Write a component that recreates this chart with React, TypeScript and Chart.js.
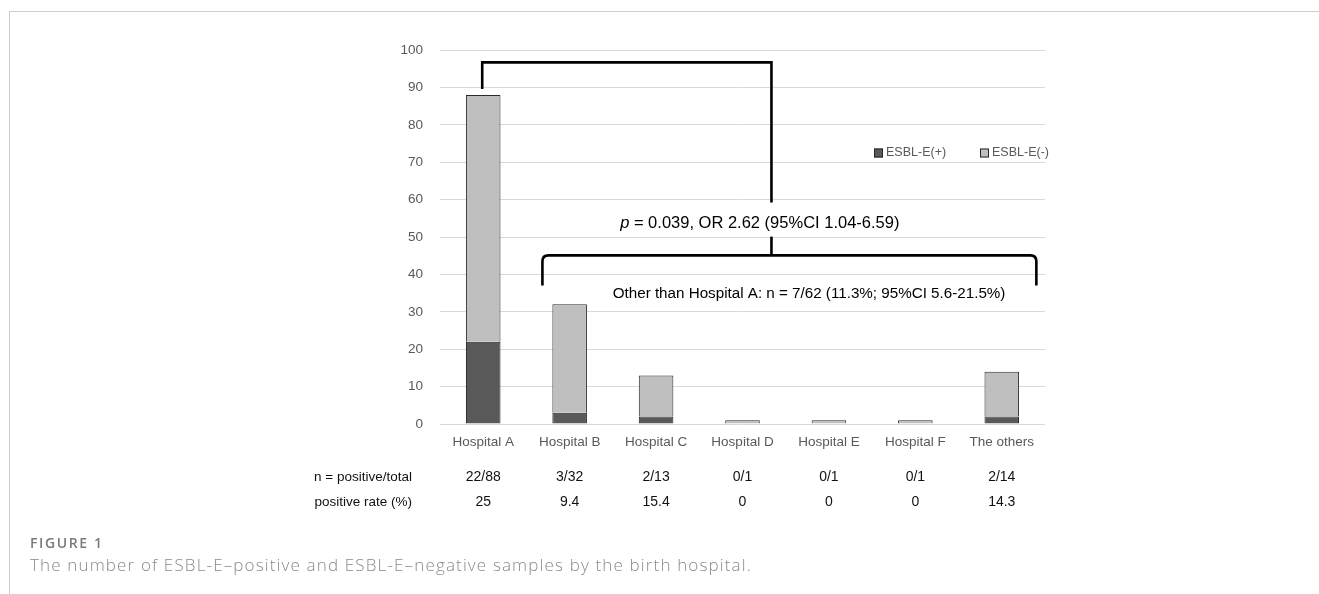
import React, { useEffect, useRef } from 'react';
import { Chart, registerables } from 'chart.js';

Chart.register(...registerables);

const categories = ['Hospital A', 'Hospital B', 'Hospital C', 'Hospital D', 'Hospital E', 'Hospital F', 'The others'];
const positiveCounts = [22, 3, 2, 0, 0, 0, 2];
const negativeCounts = [66, 29, 11, 1, 1, 1, 12];
const nPositiveTotal = ['22/88', '3/32', '2/13', '0/1', '0/1', '0/1', '2/14'];
const positiveRate = ['25', '9.4', '15.4', '0', '0', '0', '14.3'];
const seriesNames = ['ESBL-E(+)', 'ESBL-E(-)'];
const tableRowLabels = ['n = positive/total', 'positive rate (%)'];
const pText = ' = 0.039, OR 2.62 (95%CI 1.04-6.59)';
const otherText = 'Other than Hospital A: n = 7/62 (11.3%; 95%CI 5.6-21.5%)';

const FONT = '"Liberation Sans", Arial, sans-serif';
const DARK = '#595959';
const LIGHT = '#bfbfbf';

const overlay = {
  id: 'overlay',
  afterDraw(chart: any) {
    const ctx = chart.ctx as CanvasRenderingContext2D;
    const xs = chart.scales.x;
    const ys = chart.scales.y;
    const X = (v: number) => xs.getPixelForValue(v);
    const Y = (v: number) => ys.getPixelForValue(v);
    ctx.save();

    // top bracket
    ctx.strokeStyle = '#000';
    ctx.lineWidth = 2.6;
    ctx.lineJoin = 'miter';
    const bx0 = X(0) - 1;
    const bx1 = X(3.335);
    ctx.beginPath();
    ctx.moveTo(bx0, Y(89.6));
    ctx.lineTo(bx0, Y(96.7));
    ctx.lineTo(bx1, Y(96.7));
    ctx.lineTo(bx1, Y(59.2));
    ctx.stroke();
    ctx.beginPath();
    ctx.moveTo(bx1, Y(50.1));
    ctx.lineTo(bx1, Y(45.1));
    ctx.stroke();

    // lower bracket
    const lx0 = X(0.685);
    const lx1 = X(6.4);
    const ly = Y(45.1);
    const lb = Y(37.0);
    const r = 6;
    ctx.beginPath();
    ctx.moveTo(lx0, lb);
    ctx.lineTo(lx0, ly + r);
    ctx.quadraticCurveTo(lx0, ly, lx0 + r, ly);
    ctx.lineTo(lx1 - r, ly);
    ctx.quadraticCurveTo(lx1, ly, lx1, ly + r);
    ctx.lineTo(lx1, lb);
    ctx.stroke();

    // p text
    ctx.fillStyle = '#000';
    ctx.textBaseline = 'middle';
    const pFont = `italic 16.5px ${FONT}`;
    const restFont = `16.5px ${FONT}`;
    ctx.font = pFont;
    const wp = ctx.measureText('p').width;
    ctx.font = restFont;
    const wr = ctx.measureText(pText).width;
    const pStart = X(3.2) - (wp + wr) / 2;
    const pY = Y(53.7);
    ctx.font = pFont;
    ctx.textAlign = 'left';
    ctx.fillText('p', pStart, pY);
    ctx.font = restFont;
    ctx.fillText(pText, pStart + wp, pY);

    // other text
    ctx.font = `15.2px ${FONT}`;
    ctx.textAlign = 'center';
    ctx.fillText(otherText, X(3.77), Y(34.9));

    // legend
    ctx.font = `12.5px ${FONT}`;
    ctx.textAlign = 'left';
    const legendY = 153;
    const legendX = [874, 980];
    [DARK, LIGHT].forEach((c, i) => {
      ctx.fillStyle = c;
      ctx.fillRect(legendX[i], legendY - 4.5, 9, 9);
      ctx.strokeStyle = '#262626';
      ctx.lineWidth = 1;
      ctx.strokeRect(legendX[i] + 0.5, legendY - 4, 8, 8);
      ctx.fillStyle = DARK;
      ctx.fillText(seriesNames[i], legendX[i] + 12, legendY);
    });

    // table
    ctx.fillStyle = '#111';
    ctx.font = `13.5px ${FONT}`;
    const rowY = [477, 502];
    ctx.textAlign = 'right';
    tableRowLabels.forEach((t, i) => ctx.fillText(t, 412, rowY[i]));
    ctx.font = `14px ${FONT}`;
    ctx.textAlign = 'center';
    categories.forEach((_, i) => {
      ctx.fillText(nPositiveTotal[i], X(i), rowY[0]);
      ctx.fillText(positiveRate[i], X(i), rowY[1]);
    });

    ctx.restore();
  },
};

export default function App() {
  const ref = useRef<HTMLCanvasElement>(null);
  useEffect(() => {
    const chart = new Chart(ref.current as HTMLCanvasElement, {
      type: 'bar',
      data: {
        labels: categories,
        datasets: [
          {
            label: seriesNames[0],
            data: positiveCounts,
            backgroundColor: DARK,
            borderColor: '#1f1f1f',
            borderWidth: 1,
            categoryPercentage: 0.8,
            barPercentage: 0.5,
          },
          {
            label: seriesNames[1],
            data: negativeCounts,
            backgroundColor: LIGHT,
            borderColor: '#2b2b2b',
            borderWidth: 1,
            categoryPercentage: 0.8,
            barPercentage: 0.5,
          },
        ],
      },
      options: {
        responsive: false,
        animation: false,
        layout: { padding: { left: 0, right: 274, top: 50, bottom: 140 } },
        plugins: { legend: { display: false }, tooltip: { enabled: false } },
        scales: {
          x: {
            stacked: true,
            grid: { display: false, drawTicks: false },
            border: { display: false },
            ticks: { color: DARK, font: { family: FONT, size: 13.5 }, padding: 10 },
            afterFit: (s: any) => {
              s.height = 30;
            },
          },
          y: {
            stacked: true,
            min: 0,
            max: 100,
            ticks: { stepSize: 10, color: DARK, font: { family: FONT, size: 13.5 }, padding: 17 },
            grid: { color: '#d9d9d9', drawTicks: false },
            border: { display: false },
            afterFit: (s: any) => {
              s.width = 440;
            },
          },
        },
      },
      plugins: [overlay],
    } as any);
    return () => chart.destroy();
  }, []);

  return (
    <div style={{ position: 'fixed', left: 0, top: 0, width: 1319, height: 594, background: '#fff', overflow: 'hidden' }}>
      <div style={{ position: 'absolute', left: 9, top: 11, right: 0, bottom: 0, borderTop: '1px solid #cccccc', borderLeft: '1px solid #cccccc' }} />
      <canvas ref={ref} width={1319} height={594} style={{ position: 'absolute', left: 0, top: 0 }} />
      <div style={{ position: 'absolute', left: 30, top: 533, fontFamily: '"Open Sans", sans-serif', fontSize: 14, letterSpacing: '1.6px', fontWeight: 600, color: '#7a7a7a', lineHeight: '19px' }}>
        FIGURE 1
      </div>
      <div style={{ position: 'absolute', left: 30, top: 553, fontFamily: '"Open Sans", sans-serif', fontSize: 17, letterSpacing: '1.15px', fontWeight: 300, color: '#8a8a8a', lineHeight: '24px', whiteSpace: 'nowrap' }}>
        The number of ESBL-E–positive and ESBL-E–negative samples by the birth hospital.
      </div>
    </div>
  );
}
